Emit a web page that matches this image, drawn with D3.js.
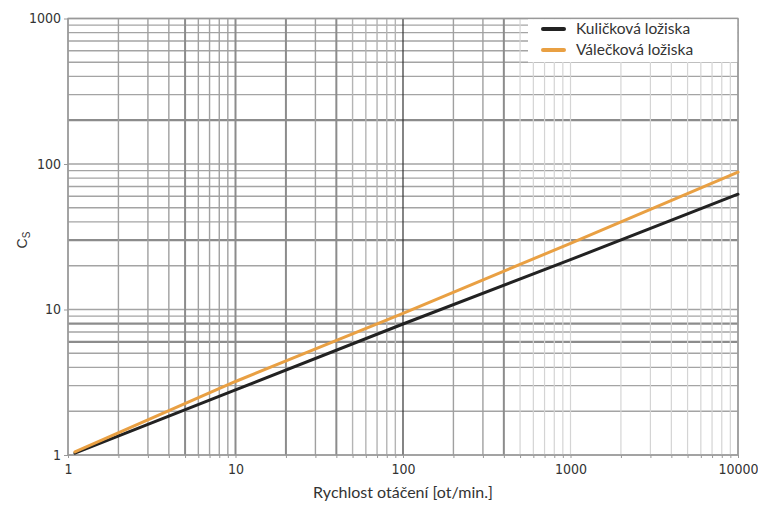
<!DOCTYPE html>
<html>
<head>
<meta charset="utf-8">
<script src="https://cdn.jsdelivr.net/npm/d3@7"></script>
<style>
  body { margin: 0; background: #fff; }
  .tick text { font-family: "Liberation Sans Narrow", "DejaVu Sans Condensed", sans-serif; font-size: 14px; fill: #333; }
</style>
</head>
<body>
<script>
// series (x = rpm, y = Cs)
var speedPoints = [1.1, 10, 100, 1000, 10000];
var ballValues = [1.03, 2.8, 7.95, 22, 62];
var rollerValues = [1.05, 3.2, 9.4, 28.5, 88];
var seriesNames = ["Kuličková ložiska", "Válečková ložiska"];
var seriesColors = ["#222222", "#e9a043"];

var xTickLabels = [1, 10, 100, 1000, 10000];
var yTickLabels = [1, 10, 100, 1000];

// grid lines (minor log steps) and the ones that look heavier in the scan
var xGridValues = [1, 2, 3, 4, 5, 6, 7, 8, 9,
    10, 20, 30, 40, 50, 60, 70, 80, 90,
    100, 200, 300, 400, 500, 600, 700, 800, 900,
    1000, 2000, 3000, 4000, 5000, 6000, 7000, 8000, 9000, 10000];
var yGridValues = [1, 2, 3, 4, 5, 6, 7, 8, 9,
    10, 20, 30, 40, 50, 60, 70, 80, 90,
    100, 200, 300, 400, 500, 600, 700, 800, 900, 1000];
var xHeavy = [5, 10, 20, 40, 400];
var xBlack = [100];
var yHeavy = [6, 8, 30, 200];

window.onload = function(){

    var w = 758, h = 505;
    var pLeft = 68, pRight = 738, pTop = 18.5, pBottom = 455;

    var svg = d3.select("body")
        .append("svg")
        .attr("width", w)
        .attr("height", h);

    var x = d3.scaleLog()
        .domain([1, 10000])
        .range([pLeft, pRight]);

    var y = d3.scaleLog()
        .domain([1, 1000])
        .range([pBottom, pTop]);

    function xStyle(d){
        if (xBlack.indexOf(d) >= 0) return {c: "#333", w: 1.2};
        if (xHeavy.indexOf(d) >= 0) return {c: "#8c8c8c", w: 2};
        if (d > 400 && d < 10000) return {c: "#d4d4d4", w: 1.2};
        if (d > 40 && d < 100) return {c: "#b4b4b4", w: 1.4};
        return {c: "#a0a0a0", w: 1.4};
    }
    function yStyle(d){
        if (yHeavy.indexOf(d) >= 0) return {c: "#8c8c8c", w: 2.2};
        return {c: "#a4a4a4", w: 1.4};
    }

    // horizontal grid
    svg.append("g")
        .attr("class", "ygrid")
        .selectAll("line")
        .data(yGridValues)
        .enter()
        .append("line")
        .attr("x1", pLeft)
        .attr("x2", pRight)
        .attr("y1", function(d){ return y(d); })
        .attr("y2", function(d){ return y(d); })
        .style("stroke", function(d){ return yStyle(d).c; })
        .style("stroke-width", function(d){ return yStyle(d).w; });

    // vertical grid
    svg.append("g")
        .attr("class", "xgrid")
        .selectAll("line")
        .data(xGridValues)
        .enter()
        .append("line")
        .attr("x1", function(d){ return x(d); })
        .attr("x2", function(d){ return x(d); })
        .attr("y1", pTop)
        .attr("y2", pBottom)
        .style("stroke", function(d){ return xStyle(d).c; })
        .style("stroke-width", function(d){ return xStyle(d).w; });

    // frame
    svg.append("rect")
        .attr("x", pLeft)
        .attr("y", pTop)
        .attr("width", pRight - pLeft)
        .attr("height", pBottom - pTop)
        .style("fill", "none")
        .style("stroke", "#999")
        .style("stroke-width", 1.4);

    // axes
    var xAxis = d3.axisBottom(x)
        .tickValues(xGridValues)
        .tickSize(3)
        .tickPadding(6)
        .tickFormat(function(d){ return xTickLabels.indexOf(d) >= 0 ? d : ""; });

    svg.append("g")
        .attr("class", "axis")
        .attr("transform", "translate(0," + pBottom + ")")
        .call(xAxis)
        .call(function(g){ g.select(".domain").remove(); })
        .call(function(g){ g.selectAll(".tick line").style("stroke", "#999"); });

    var yAxis = d3.axisLeft(y)
        .tickValues(yTickLabels)
        .tickSize(4)
        .tickPadding(3)
        .tickFormat(d3.format("d"));

    svg.append("g")
        .attr("class", "axis")
        .attr("transform", "translate(" + pLeft + ",0)")
        .call(yAxis)
        .call(function(g){ g.select(".domain").remove(); })
        .call(function(g){ g.selectAll(".tick line").style("stroke", "#999"); });

    // curves
    var line = d3.line()
        .x(function(d){ return x(d[0]); })
        .y(function(d){ return y(d[1]); });

    [ballValues, rollerValues].forEach(function(vals, i){
        svg.append("path")
            .datum(speedPoints.map(function(s, j){ return [s, vals[j]]; }))
            .attr("d", line)
            .style("fill", "none")
            .style("stroke", seriesColors[i])
            .style("stroke-width", 3)
            .style("stroke-linecap", "round");
    });

    // legend (white box covering the grid)
    var legend = svg.append("g").attr("class", "legend");
    legend.append("rect")
        .attr("x", 528)
        .attr("y", pTop + 0.8)
        .attr("width", pRight - 528 - 0.8)
        .attr("height", 43)
        .style("fill", "#fff");

    seriesNames.forEach(function(name, i){
        var ly = 29 + i * 21;
        legend.append("line")
            .attr("x1", 543).attr("x2", 564)
            .attr("y1", ly).attr("y2", ly)
            .style("stroke", seriesColors[i])
            .style("stroke-width", 4)
            .style("stroke-linecap", "round");
        legend.append("text")
            .attr("x", 576)
            .attr("y", ly + 5)
            .style("font-family", "Lato, 'Open Sans', sans-serif")
            .style("font-size", "15.5px")
            .style("fill", "#333")
            .text(name);
    });

    // axis titles
    svg.append("text")
        .attr("x", (pLeft + pRight) / 2)
        .attr("y", 498)
        .attr("text-anchor", "middle")
        .style("font-family", "Lato, 'Open Sans', sans-serif")
        .style("font-size", "16px")
        .style("fill", "#333")
        .text("Rychlost otáčení [ot/min.]");

    var ytitle = svg.append("text")
        .attr("transform", "translate(27,240) rotate(-90)")
        .attr("text-anchor", "middle")
        .style("font-family", "'Liberation Sans Narrow', sans-serif")
        .style("font-size", "14px")
        .style("fill", "#333");
    ytitle.append("tspan").text("C");
    ytitle.append("tspan").attr("dy", 3).style("font-size", "10px").text("S");
};
</script>
</body>
</html>
